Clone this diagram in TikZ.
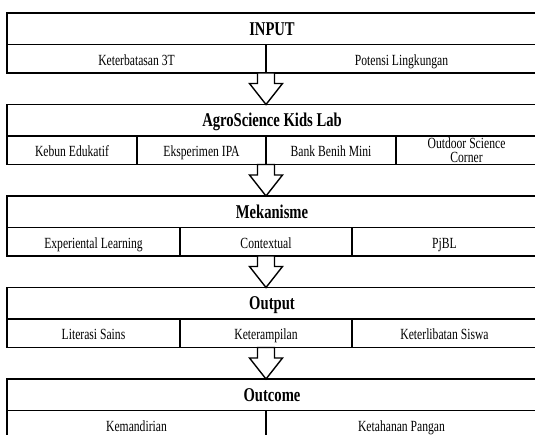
\documentclass[tikz,border=0pt]{standalone}
\usepackage{fontspec}
\setmainfont{Liberation Serif}[FakeStretch=0.75]
\usetikzlibrary{positioning,calc}

\tikzset{
  head/.style={draw, line width=1.4pt, outer sep=0pt, inner sep=0pt, minimum width=530pt, minimum height=31.5pt, text height=22pt, text depth=9.5pt, font=\fontsize{19.5}{22}\selectfont\bfseries},
  cell/.style={draw, line width=1.4pt, outer sep=0pt, inner sep=0pt, minimum height=28.5pt, text height=20.5pt, text depth=8pt, align=center, font=\fontsize{15.5}{14}\selectfont},
  twoline/.style={text height=26pt, text depth=2.5pt},
  hollow/.style={draw, fill=white, line width=1.4pt, line join=miter}
}

% hollow block arrow from the bottom of one block to the top of the next
\newcommand{\hollowarrow}[2]{%
  \draw[hollow] let \p1=(#1), \p2=(#2) in
    (\x1-8.5pt,\y1) -- (\x1+8.5pt,\y1) -- (\x1+8.5pt,\y2+21pt) -- (\x1+16.5pt,\y2+21pt)
    -- (\x1,\y2) -- (\x1-16.5pt,\y2+21pt) -- (\x1-8.5pt,\y2+21pt) -- cycle;}

\begin{document}
\begin{tikzpicture}
\useasboundingbox (0pt,0pt) rectangle (535pt,-434pt);
% blocks, top to bottom

\node (input)         [head, anchor=north west]                              at (7pt,-13pt) {INPUT};
\node (keterbatasan)  [cell, minimum width=259pt, below right=0pt and 0pt of input.south west]  {Keterbatasan 3T};
\node (potensi)       [cell, minimum width=271pt, right=0pt of keterbatasan]                     {Potensi Lingkungan};

\node (agro)          [head, below right=31.5pt and 0pt of keterbatasan.south west]             {AgroScience Kids Lab};
\node (kebun)         [cell, minimum width=130pt, below right=0pt and 0pt of agro.south west]   {Kebun Edukatif};
\node (eksperimen)    [cell, minimum width=129pt, right=0pt of kebun]                            {Eksperimen IPA};
\node (bankbenih)     [cell, minimum width=130pt, right=0pt of eksperimen]                       {Bank Benih Mini};
\node (outdoor)       [cell, twoline, minimum width=141pt, right=0pt of bankbenih]               {Outdoor Science\\Corner};

\node (mekanisme)     [head, below right=31.5pt and 0pt of kebun.south west]                    {Mekanisme};
\node (experiental)   [cell, minimum width=173pt, below right=0pt and 0pt of mekanisme.south west] {Experiental Learning};
\node (contextual)    [cell, minimum width=172pt, right=0pt of experiental]                      {Contextual};
\node (pjbl)          [cell, minimum width=185pt, right=0pt of contextual]                       {PjBL};

\node (output)        [head, below right=31.5pt and 0pt of experiental.south west]              {Output};
\node (literasi)      [cell, minimum width=173pt, below right=0pt and 0pt of output.south west] {Literasi Sains};
\node (keterampilan)  [cell, minimum width=172pt, right=0pt of literasi]                         {Keterampilan};
\node (keterlibatan)  [cell, minimum width=185pt, right=0pt of keterampilan]                     {Keterlibatan Siswa};

\node (outcome)       [head, below right=31.5pt and 0pt of literasi.south west]                 {Outcome};
\node (kemandirian)   [cell, minimum width=259pt, below right=0pt and 0pt of outcome.south west] {Kemandirian};
\node (ketahanan)     [cell, minimum width=271pt, right=0pt of kemandirian]                      {Ketahanan Pangan};

\hollowarrow{keterbatasan.south east}{agro.north}
\hollowarrow{eksperimen.south east}{mekanisme.north}
\hollowarrow{contextual.south}{output.north}
\hollowarrow{keterampilan.south}{outcome.north}

\end{tikzpicture}
\end{document}
